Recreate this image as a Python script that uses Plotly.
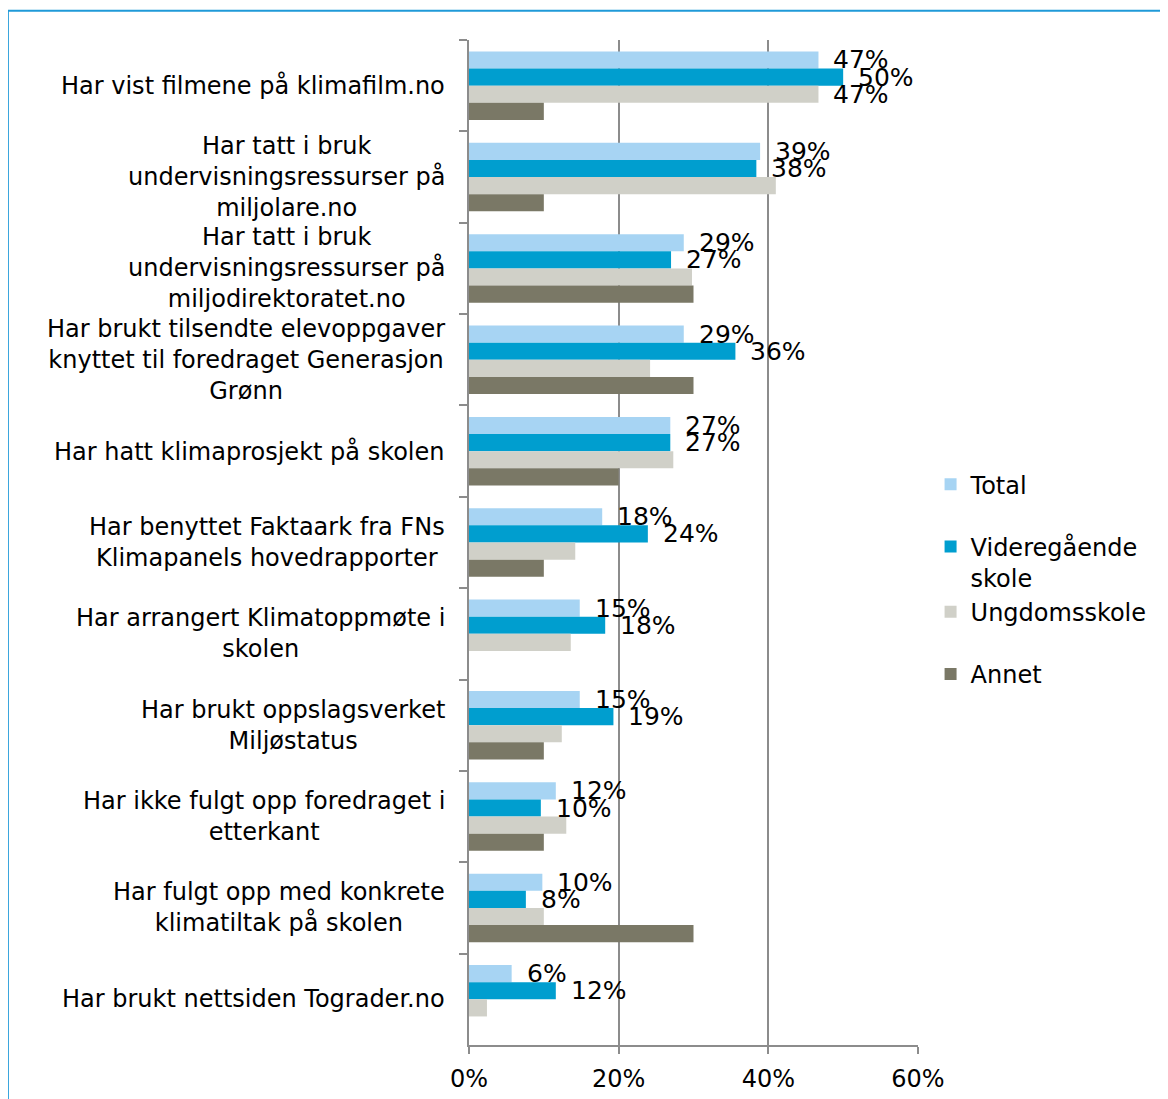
import plotly.graph_objects as go

categories = [
    "Har vist filmene på klimafilm.no",
    "Har tatt i bruk<br>undervisningsressurser på<br>miljolare.no",
    "Har tatt i bruk<br>undervisningsressurser på<br>miljodirektoratet.no",
    "Har brukt tilsendte elevoppgaver<br>knyttet til foredraget Generasjon<br>Grønn",
    "Har hatt klimaprosjekt på skolen",
    "Har benyttet Faktaark fra FNs<br>Klimapanels hovedrapporter",
    "Har arrangert Klimatoppmøte i<br>skolen",
    "Har brukt oppslagsverket<br>Miljøstatus",
    "Har ikke fulgt opp foredraget i<br>etterkant",
    "Har fulgt opp med konkrete<br>klimatiltak på skolen",
    "Har brukt nettsiden Tograder.no",
]

total = [46.7, 38.9, 28.7, 28.7, 26.9, 17.8, 14.8, 14.8, 11.6, 9.8, 5.7]
videregaende = [50.0, 38.4, 27.0, 35.6, 26.9, 23.9, 18.2, 19.3, 9.6, 7.6, 11.6]
ungdomsskole = [46.7, 41.0, 29.8, 24.2, 27.3, 14.2, 13.6, 12.4, 13.0, 10.0, 2.4]
annet = [10.0, 10.0, 30.0, 30.0, 20.0, 10.0, None, 10.0, 10.0, 30.0, None]

series = [
    ("Total", total, "#a7d4f3", "g0"),
    ("Videregående<br>skole", videregaende, "#009ecf", "g1"),
    ("Ungdomsskole", ungdomsskole, "#d0d0c8", "g1"),
    ("Annet", annet, "#7a7866", "g2"),
]

FONT = "DejaVu Sans"

fig = go.Figure()
for name, vals, col, grp in series:
    fig.add_trace(go.Bar(
        y=categories, x=vals, name=name, orientation="h",
        marker=dict(color=col, line=dict(width=0)),
        legendgroup=grp,
    ))

# data labels (Total and Videregående on every row, Ungdomsskole on the first)
offsets = [-1.5, -0.5, 0.5, 1.5]
def add_label(v, j, k):
    fig.add_annotation(
        x=v, y=j + offsets[k] * 0.1875, xref="x", yref="y",
        text=f"{round(v)}%", showarrow=False, xanchor="left",
        xshift=13, font=dict(size=25, color="#000000", family=FONT),
    )

for j, v in enumerate(total):
    add_label(v, j, 0)
for j, v in enumerate(videregaende):
    add_label(v, j, 1)
add_label(ungdomsskole[0], 0, 2)

# category labels, centered lines like the original
for j, c in enumerate(categories):
    fig.add_annotation(
        x=0, y=j, xref="paper", yref="y", text=c, showarrow=False,
        xanchor="right", align="center", xshift=-22,
        font=dict(size=24, color="#000000", family=FONT),
    )

# outer frame
fig.add_shape(type="line", xref="paper", yref="paper", x0=-1.027, x1=2, y0=1.029, y1=1.029,
              line=dict(color="#1f9ad8", width=2))
fig.add_shape(type="line", xref="paper", yref="paper", x0=-1.027, x1=-1.027, y0=1.029, y1=-1,
              line=dict(color="#1f9ad8", width=2))

fig.update_layout(
    width=1160, height=1091,
    margin=dict(l=461, r=250, t=32, b=54, autoexpand=False),
    paper_bgcolor="white", plot_bgcolor="white",
    barmode="group", bargap=0.25, bargroupgap=0,
    font=dict(family=FONT, size=24, color="#000000"),
    showlegend=True,
    legend=dict(x=1.028, y=0.58, xanchor="left", yanchor="top",
                font=dict(size=24, family=FONT), tracegroupgap=28,
                valign="top", itemwidth=30, bgcolor="rgba(0,0,0,0)"),
)
fig.update_xaxes(
    range=[0, 60], tickvals=[0, 20, 40, 60], ticktext=["0%", "20%", "40%", "60%"],
    showgrid=True, gridcolor="#8c8c8c", gridwidth=1.5,
    showline=True, linecolor="#8c8c8c", linewidth=1.5,
    ticks="outside", ticklen=7, tickcolor="#8c8c8c", tickwidth=1.5,
    ticklabelstandoff=4, automargin=False,
    zeroline=False, tickfont=dict(size=24),
)
fig.update_yaxes(
    autorange="reversed", showticklabels=False, automargin=False,
    showline=True, linecolor="#8c8c8c", linewidth=1.5,
    ticks="outside", tickson="boundaries", ticklen=8, tickcolor="#8c8c8c", tickwidth=1.5,
    showgrid=False,
)

fig.write_html("out.html")
